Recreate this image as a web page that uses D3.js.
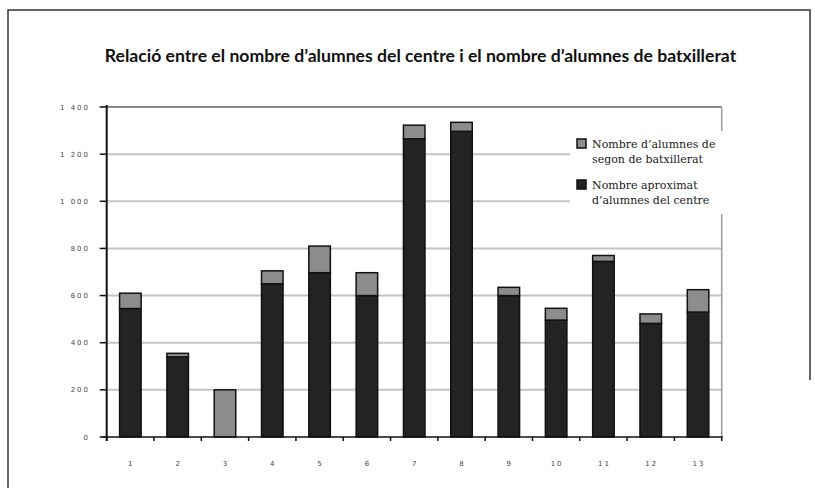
<!DOCTYPE html>
<html><head><meta charset="utf-8">
<script src="https://cdn.jsdelivr.net/npm/d3@7"></script>
<style>body{margin:0;background:#fff}svg{display:block}</style>
</head><body>
<svg id="c" width="815" height="488"></svg>
<script>
const categories = ["1","2","3","4","5","6","7","8","9","10","11","12","13"];
const centreValues = [545, 340, 0, 650, 697, 600, 1265, 1297, 600, 496, 745, 482, 530];
const batxValues = [65, 15, 200, 55, 113, 97, 58, 38, 35, 50, 25, 40, 95];
const yTicks = [0, 200, 400, 600, 800, 1000, 1200, 1400];
const yTickLabels = ["0", "200", "400", "600", "800", "1 000", "1 200", "1 400"];
const titleText = "Relaci\u00f3 entre el nombre d\u2019alumnes del centre i el nombre d\u2019alumnes de batxillerat";

(function () {
const svg = d3.select("#c");
const pLeft = 106.7, pRight = 721.7, pTop = 107, pBottom = 437;

const x = d3.scaleBand().domain(categories).range([pLeft, pRight]).paddingInner(0.545).paddingOuter(0.2725);
const y = d3.scaleLinear().domain([0, 1400]).range([pBottom, pTop]);

// frame
svg.append("path").attr("d", "M8,488 L8,10 L810,10 L810,380").attr("fill", "none").attr("stroke", "#333").attr("stroke-width", 1.5);

// title
const t = svg.append("text").attr("x", 420.5).attr("y", 62).attr("text-anchor", "middle")
  .attr("font-family", "Lato, 'Open Sans', sans-serif").attr("font-weight", "bold").attr("font-size", 14)
  .attr("fill", "#111").text(titleText);
const w = t.node().getComputedTextLength();
t.attr("font-size", 14 * 632 / w);

// gridlines
svg.append("g").selectAll("line").data(yTicks.filter(d => d > 0)).join("line")
  .attr("x1", pLeft).attr("x2", pRight).attr("y1", d => y(d)).attr("y2", d => y(d))
  .attr("stroke", d => d === 1400 ? "#8a8a8a" : "#c4c4c4").attr("stroke-width", 2);
svg.append("line").attr("x1", pRight).attr("x2", pRight).attr("y1", pTop).attr("y2", pBottom)
  .attr("stroke", "#999").attr("stroke-width", 1.5);

// stacked data
const stackData = categories.map((c, i) => ({cat: c, centre: centreValues[i], batx: batxValues[i]}));
const stack = d3.stack().keys(["centre", "batx"])(stackData);
const fills = {centre: "#232323", batx: "#8c8c8c"};

const gBars = svg.append("g");
stack.forEach(layer => {
  gBars.append("g").selectAll("rect").data(layer.filter(d => d[1] - d[0] > 0)).join("rect")
    .attr("x", d => x(d.data.cat)).attr("width", x.bandwidth())
    .attr("y", d => y(d[1])).attr("height", d => y(d[0]) - y(d[1]))
    .attr("fill", fills[layer.key]).attr("stroke", "#111").attr("stroke-width", 1.5);
});

// y axis
const yAxis = svg.append("g");
yAxis.append("line").attr("x1", pLeft).attr("x2", pLeft).attr("y1", pTop - 2).attr("y2", pBottom + 4)
  .attr("stroke", "#111").attr("stroke-width", 2);
yAxis.selectAll(".tk").data(yTicks).join("line").attr("class", "tk")
  .attr("x1", pLeft - 7).attr("x2", pLeft).attr("y1", d => y(d)).attr("y2", d => y(d))
  .attr("stroke", "#111").attr("stroke-width", 1.5);
yAxis.selectAll("text").data(yTicks).join("text")
  .attr("x", 90).attr("y", d => y(d) + 2.5).attr("text-anchor", "end")
  .attr("font-family", "DejaVu Sans, sans-serif").attr("font-size", 7).attr("letter-spacing", 2)
  .attr("fill", "#444").text((d, i) => yTickLabels[i]);

// x axis
const xAxis = svg.append("g");
xAxis.append("line").attr("x1", pLeft - 4).attr("x2", pRight + 1).attr("y1", pBottom).attr("y2", pBottom)
  .attr("stroke", "#111").attr("stroke-width", 1.5);
const boundaries = d3.range(categories.length + 1).map(i => pLeft + i * x.step());
xAxis.selectAll(".tk").data(boundaries).join("line").attr("class", "tk")
  .attr("x1", d => d).attr("x2", d => d).attr("y1", pBottom).attr("y2", pBottom + 4)
  .attr("stroke", "#111").attr("stroke-width", 1.5);
xAxis.selectAll("text").data(categories).join("text")
  .attr("x", d => x(d) + x.bandwidth() / 2 + 1).attr("y", 466).attr("text-anchor", "middle")
  .attr("font-family", "DejaVu Sans, sans-serif").attr("font-size", 7).attr("letter-spacing", 2)
  .attr("fill", "#444").text(d => d);

// legend
const lg = svg.append("g");
lg.append("rect").attr("x", 570).attr("y", 131).attr("width", 156).attr("height", 83).attr("fill", "#fff");
const legendItems = [
  {fill: fills.batx, lines: ["Nombre d\u2019alumnes de", "segon de batxillerat"], y: 139},
  {fill: fills.centre, lines: ["Nombre aproximat", "d\u2019alumnes del centre"], y: 180}
];
legendItems.forEach(it => {
  lg.append("rect").attr("x", 577).attr("y", it.y).attr("width", 9).attr("height", 9)
    .attr("fill", it.fill).attr("stroke", "#111").attr("stroke-width", 1.5);
  it.lines.forEach((l, j) => {
    lg.append("text").attr("x", 592).attr("y", it.y + 9 + j * 15)
      .attr("font-family", "DejaVu Serif, serif").attr("font-size", 11)
      .attr("fill", "#222").text(l);
  });
});
})();
</script>
</body></html>
